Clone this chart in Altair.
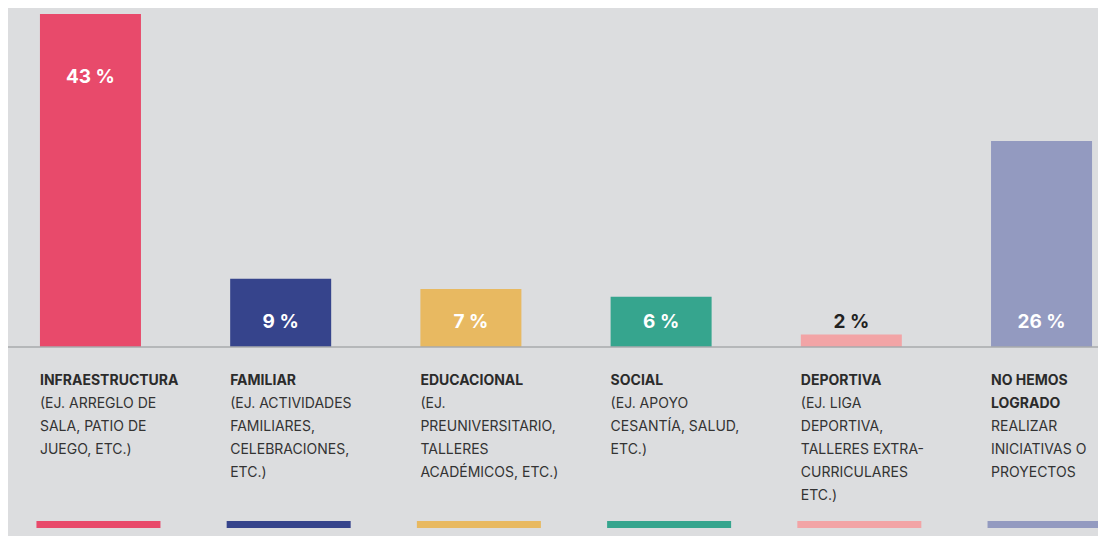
import altair as alt
import pandas as pd

categories = ["INFRAESTRUCTURA", "FAMILIAR", "EDUCACIONAL", "SOCIAL", "DEPORTIVA", "NO HEMOS LOGRADO"]
# bar heights (labels show the rounded figures)
values = [43, 8.8, 7.5, 6.5, 1.6, 26.6]
pct_labels = ["43 %", "9 %", "7 %", "6 %", "2 %", "26 %"]
heads = ["INFRAESTRUCTURA", "FAMILIAR", "EDUCACIONAL", "SOCIAL", "DEPORTIVA", "NO HEMOS\nLOGRADO"]
bodies = [
    "(EJ. ARREGLO DE\nSALA, PATIO DE\nJUEGO, ETC.)",
    "(EJ. ACTIVIDADES\nFAMILIARES,\nCELEBRACIONES,\nETC.)",
    "(EJ.\nPREUNIVERSITARIO,\nTALLERES\nACADÉMICOS, ETC.)",
    "\u00a0(EJ. APOYO\nCESANTÍA, SALUD,\nETC.)",
    "(EJ. LIGA\nDEPORTIVA,\nTALLERES EXTRA-\nCURRICULARES\nETC.)",
    "REALIZAR\nINICIATIVAS O\nPROYECTOS",
]
colors = ["#e84a6b", "#36448c", "#e8b961", "#36a58e", "#f2a4a6", "#939ac0"]
baseline = [0]

df = pd.DataFrame({
    "cat": categories,
    "value": values,
    "pct": pct_labels,
    "head": heads,
    "body": bodies,
    "nhead": [h.count("\n") + 1 for h in heads],
})

FONT = "Inter"
TXT = "#2b2b2b"

xscale = alt.Scale(domain=categories, range=[0, 1116], paddingInner=0.469, paddingOuter=0.168)
yscale = alt.Scale(domain=[0, 43], range=[339, 6])
color_enc = alt.Color("cat:N", scale=alt.Scale(domain=categories, range=colors), legend=None)


def xenc(bp=None):
    if bp is None:
        return alt.X("cat:N", scale=xscale, axis=None, sort=categories)
    return alt.X("cat:N", scale=xscale, axis=None, sort=categories, bandPosition=bp)


base = alt.Chart(df)

bars = base.mark_bar().encode(
    x=xenc(),
    y=alt.Y("value:Q", scale=yscale, axis=None),
    color=color_enc,
)

rule = alt.Chart(pd.DataFrame({"v": baseline})).mark_rule(color="#a9aaac", strokeWidth=1.5).encode(
    y=alt.Y("v:Q", scale=yscale, axis=None)
)

pct_top = base.transform_filter(alt.datum.value > 30).mark_text(
    font=FONT, fontSize=19, fontWeight="bold", baseline="middle", align="center", dy=63
).encode(
    x=xenc(),
    y=alt.Y("value:Q", scale=yscale, axis=None),
    text="pct:N",
    color=alt.value("white"),
)

pct_low = base.transform_filter(alt.datum.value <= 30).mark_text(
    font=FONT, fontSize=19, fontWeight="bold", baseline="middle", align="center"
).encode(
    x=xenc(),
    y=alt.value(314),
    text="pct:N",
    color=alt.condition(alt.datum.value < 3, alt.value("#222222"), alt.value("white")),
)

head_txt = base.mark_text(
    font=FONT, fontSize=14, fontWeight="bold", align="left", baseline="middle",
    lineBreak="\n", lineHeight=23, color=TXT
).encode(x=xenc(0), y=alt.value(373), text="head:N")

body1 = base.transform_filter(alt.datum.nhead == 1).mark_text(
    font=FONT, fontSize=14, align="left", baseline="middle",
    lineBreak="\n", lineHeight=23, color="#333333"
).encode(x=xenc(0), y=alt.value(396), text="body:N")

body2 = base.transform_filter(alt.datum.nhead == 2).mark_text(
    font=FONT, fontSize=14, align="left", baseline="middle",
    lineBreak="\n", lineHeight=23, color="#333333"
).encode(x=xenc(0), y=alt.value(419), text="body:N")

underline = base.mark_bar(width=124, xOffset=8).encode(
    x=xenc(),
    y=alt.value(513),
    y2=alt.value(520),
    color=color_enc,
)

chart = alt.layer(bars, rule, pct_top, pct_low, head_txt, body1, body2, underline).properties(
    width=1090, height=528,
    autosize=alt.AutoSizeParams(type="none"),
    padding=0,
    background="#dcdddf",
).configure_view(stroke=None)

chart.save("out.html", embed_options={"renderer": "svg", "actions": False})
